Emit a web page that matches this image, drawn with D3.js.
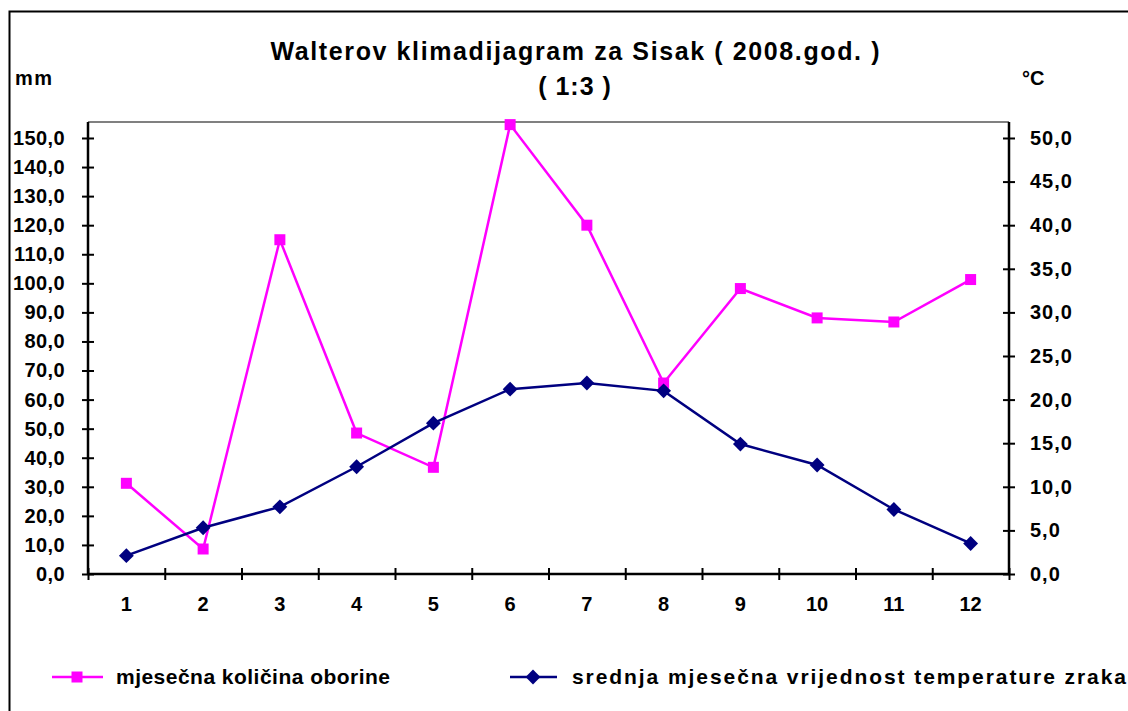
<!DOCTYPE html>
<html><head><meta charset="utf-8">
<script src="https://cdn.jsdelivr.net/npm/d3@7"></script>
<style>
body{margin:0;background:#fff;}
text{font-family:"Liberation Sans",Arial,sans-serif;font-weight:bold;fill:#000;}
</style></head>
<body><svg id="c" width="1128" height="711"></svg>
<script>
const months = ["1","2","3","4","5","6","7","8","9","10","11","12"];
const precipitation = [31.2, 8.6, 115.0, 48.5, 36.7, 154.6, 120.0, 65.7, 98.2, 88.1, 86.7, 101.3];
const temperature = [2.1, 5.3, 7.7, 12.3, 17.3, 21.2, 21.9, 21.0, 14.9, 12.5, 7.4, 3.5];
const leftTicks = [0,10,20,30,40,50,60,70,80,90,100,110,120,130,140,150];
const rightTicks = [0,5,10,15,20,25,30,35,40,45,50];
const seriesNames = ["mjesečna količina oborine","srednja mjesečna vrijednost temperature zraka"];
const titleLines = ["Walterov klimadijagram za Sisak ( 2008.god. )","( 1:3 )"];

const svg = d3.select("#c");
svg.append("rect").attr("width",1128).attr("height",711).attr("fill","#fff");
svg.append("rect").attr("x",9.5).attr("y",11.5).attr("width",1130).attr("height",710)
  .attr("fill","none").attr("stroke","#000").attr("stroke-width",2);

const L=88,R=1009,T=122,B=574;
const leftMax=155.5;
const x = d3.scaleBand().domain(months).range([L,R]).padding(0);
const xb = d3.scaleLinear().domain([0,12]).range([L,R]);
const yL = d3.scaleLinear().domain([0,leftMax]).range([B,T]);
const yR = d3.scaleLinear().domain([0,leftMax/3]).range([B,T]);
const fmt = v => d3.format(".1f")(v).replace(".",",");

svg.append("line").attr("x1",L).attr("x2",R).attr("y1",T).attr("y2",T)
  .attr("stroke","#808080").attr("stroke-width",2);

const gl = svg.append("g").attr("transform",`translate(${L},0)`)
  .call(d3.axisLeft(yL).tickValues(leftTicks).tickFormat(fmt).tickSize(6).tickPadding(17));
gl.selectAll(".tick line").attr("x1",-6).attr("x2",6);
gl.select(".domain").attr("d",`M0,${T}V${B}`);
const gr = svg.append("g").attr("transform",`translate(${R},0)`)
  .call(d3.axisRight(yR).tickValues(rightTicks).tickFormat(fmt).tickSize(6).tickPadding(15));
gr.selectAll(".tick line").attr("x1",-6).attr("x2",6);
gr.select(".domain").attr("d",`M0,${T}V${B}`);
const gb = svg.append("g").attr("transform",`translate(0,${B})`)
  .call(d3.axisBottom(xb).tickValues(d3.range(0,13)).tickFormat("").tickSize(6));
gb.selectAll(".tick line").attr("y1",-6).attr("y2",6);
gb.select(".domain").attr("d",`M${L},0H${R}`);
const gbl = svg.append("g").attr("transform",`translate(0,${B})`)
  .call(d3.axisBottom(x).tickSize(0).tickPadding(23));
gbl.select(".domain").remove();

[gl,gr,gb,gbl].forEach(g=>{
  g.selectAll(".domain").attr("stroke","#000").attr("stroke-width",2.5);
  g.selectAll(".tick line").attr("stroke","#000").attr("stroke-width",2);
  g.selectAll("text").style("font-family",'"Liberation Sans",Arial,sans-serif')
   .style("font-weight","bold").style("font-size","20px").attr("fill","#000");
});
gl.selectAll("text").attr("letter-spacing","0.4");
gr.selectAll("text").attr("letter-spacing","1");

const pink="#FF00FF", navy="#000080";
const cx = i => x(months[i])+x.bandwidth()/2;
svg.append("path").datum(precipitation)
  .attr("d",d3.line().x((d,i)=>cx(i)).y(d=>yL(d)))
  .attr("fill","none").attr("stroke",pink).attr("stroke-width",2.5);
svg.append("path").datum(temperature)
  .attr("d",d3.line().x((d,i)=>cx(i)).y(d=>yR(d)))
  .attr("fill","none").attr("stroke",navy).attr("stroke-width",2.5);

const sq = d3.symbol().type(d3.symbolSquare).size(121);
const dm = d3.symbol().type(d3.symbolSquare).size(110);
svg.append("g").selectAll("path").data(precipitation).join("path")
  .attr("d",sq).attr("fill",pink)
  .attr("transform",(d,i)=>`translate(${cx(i)},${yL(d)})`);
svg.append("g").selectAll("path").data(temperature).join("path")
  .attr("d",dm).attr("fill",navy)
  .attr("transform",(d,i)=>`translate(${cx(i)},${yR(d)}) rotate(45)`);

svg.append("text").attr("x",575).attr("y",60).attr("text-anchor","middle")
  .style("font-size","25px").attr("textLength",609).attr("lengthAdjust","spacing").text(titleLines[0]);
svg.append("text").attr("x",575).attr("y",95).attr("text-anchor","middle")
  .style("font-size","25px").attr("letter-spacing","1").text(titleLines[1]);
svg.append("text").attr("x",15).attr("y",85).style("font-size","20px").attr("letter-spacing","1.5").text("mm");
svg.append("text").attr("x",1022).attr("y",85).style("font-size","20px").text("°C");

const ly=677;
svg.append("line").attr("x1",52).attr("x2",103).attr("y1",ly).attr("y2",ly).attr("stroke",pink).attr("stroke-width",2.5);
svg.append("path").attr("d",sq).attr("fill",pink).attr("transform",`translate(77,${ly})`);
svg.append("text").attr("x",116).attr("y",ly+7).style("font-size","21px")
  .attr("textLength",274).attr("lengthAdjust","spacing").text(seriesNames[0]);
svg.append("line").attr("x1",510).attr("x2",557).attr("y1",ly).attr("y2",ly).attr("stroke",navy).attr("stroke-width",2.5);
svg.append("path").attr("d",dm).attr("fill",navy).attr("transform",`translate(533,${ly}) rotate(45)`);
svg.append("text").attr("x",572).attr("y",ly+7).style("font-size","21px")
  .attr("textLength",554).attr("lengthAdjust","spacing").text(seriesNames[1]);
</script></body></html>
